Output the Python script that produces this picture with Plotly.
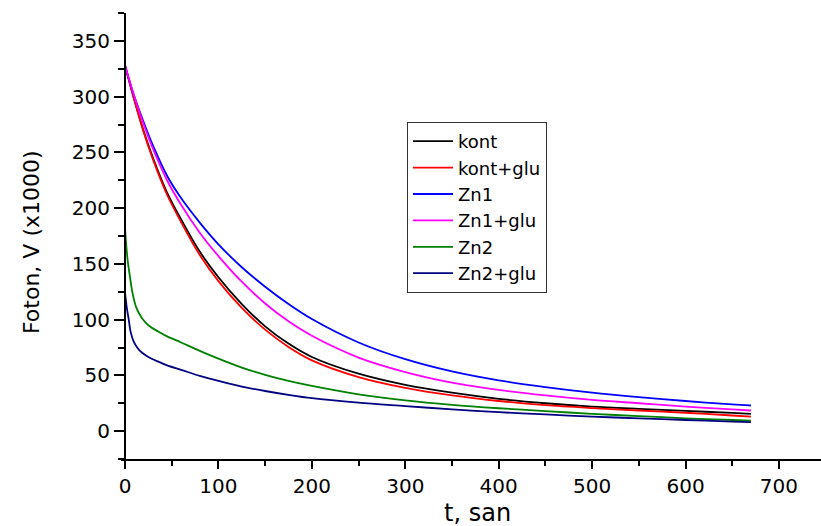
import plotly.graph_objects as go

# time grid (s)
t_main = [0, 10, 20, 30, 45, 60, 80, 100, 125, 150, 175, 200, 250, 300, 350, 400, 450, 500, 550, 600, 650, 670]
kont = [328, 297, 269, 245, 214, 190, 161, 138, 114, 94, 78.5, 66.5, 51.5, 41.5, 34.5, 29, 25, 22, 20, 18.2, 16.3, 15.5]
kont_glu = [328, 297, 268, 243.5, 212, 187.5, 158, 134.5, 110.5, 91, 75.5, 63.5, 48.5, 38.8, 32, 27, 23.3, 20.7, 18.5, 16.5, 14, 13]
zn1 = [328, 300, 277, 256, 229, 209, 187, 167.5, 147, 129.5, 114, 100.5, 79.5, 64.5, 53.5, 45.5, 39.5, 34.5, 30.5, 27, 24, 23]
zn1_glu = [328, 300, 275, 253, 225, 203, 178, 157, 134, 114.5, 98.5, 85.5, 66, 53, 43.5, 37, 32, 28, 25, 22, 19.5, 18.5]

t_zn2 = [0, 1, 3, 5, 8, 12, 18, 25, 35, 45, 60, 80, 100, 125, 150, 175, 200, 250, 300, 350, 400, 450, 500, 550, 600, 650, 670]
zn2 = [183, 170, 152, 140, 124, 111, 101.5, 95, 89.5, 85, 79.5, 72, 65, 57, 50.5, 45, 40.5, 33, 27.5, 23.5, 20.5, 18, 15.5, 13.5, 11.5, 10, 9.5]

t_zn2g = [0, 1, 2, 4, 6, 9, 13, 18, 25, 35, 45, 60, 80, 100, 125, 150, 175, 200, 250, 300, 350, 400, 450, 500, 550, 600, 650, 670]
zn2_glu = [124, 117, 110, 100, 89, 81, 75, 70.5, 66.5, 62.5, 59, 55, 49.5, 45, 40, 36, 32.5, 29.5, 25.5, 22.5, 19.5, 17, 15, 13, 11.5, 10, 8.5, 8]

series = [
    ("kont", t_main, kont, "#000000"),
    ("kont+glu", t_main, kont_glu, "#ff0000"),
    ("Zn1", t_main, zn1, "#0000ff"),
    ("Zn1+glu", t_main, zn1_glu, "#ff00ff"),
    ("Zn2", t_zn2, zn2, "#008000"),
    ("Zn2+glu", t_zn2g, zn2_glu, "#000080"),
]

x_range = [-4.3, 745]
y_range = [-25, 375]

fig = go.Figure()
for name, tx, vy, col in series:
    fig.add_trace(go.Scatter(x=tx, y=vy, name=name, mode="lines",
                             line=dict(color=col, width=1.8, shape="spline", smoothing=0.9)))

FONT = "DejaVu Sans"
fig.update_layout(
    width=821, height=526,
    margin=dict(l=121, r=0, t=13, b=67),
    paper_bgcolor="white", plot_bgcolor="white",
    font=dict(family=FONT, color="#000000", size=18),
    showlegend=True,
    legend=dict(x=(407 - 121) / 700, y=(459 - 122) / 446, xanchor="left", yanchor="top",
                bordercolor="#333333", borderwidth=1, bgcolor="white",
                font=dict(family=FONT, size=18, color="#000000"), tracegroupgap=0,
                itemwidth=40),
    xaxis=dict(range=x_range, showgrid=False, zeroline=False, showline=True,
               linecolor="black", linewidth=2, ticks="outside", ticklen=8, tickwidth=1.5,
               tickcolor="black", tick0=0, dtick=100, tickfont=dict(family=FONT, size=20),
               minor=dict(ticks="outside", ticklen=5, tickwidth=1.5, tickcolor="black", dtick=50, showgrid=False)),
    yaxis=dict(range=y_range, showgrid=False, zeroline=False, showline=True,
               anchor="free", position=(0 - x_range[0]) / (x_range[1] - x_range[0]),
               linecolor="black", linewidth=2, ticks="outside", ticklen=10, tickwidth=1.5,
               tickcolor="black", tick0=0, dtick=50, tickfont=dict(family=FONT, size=20),
               minor=dict(ticks="outside", ticklen=6, tickwidth=1.5, tickcolor="black", dtick=25, showgrid=False)),
    annotations=[
        dict(text="t, san", xref="paper", yref="paper", x=(477 - 121) / 700, y=(459 - 513) / 446,
             xanchor="center", yanchor="middle", showarrow=False, font=dict(family=FONT, size=24)),
        dict(text="Foton, V (x1000)", xref="paper", yref="paper", x=(31 - 121) / 700, y=(459 - 242) / 446,
             xanchor="center", yanchor="middle", textangle=-90, showarrow=False, font=dict(family=FONT, size=22)),
    ],
)

fig.write_html("out.html")
